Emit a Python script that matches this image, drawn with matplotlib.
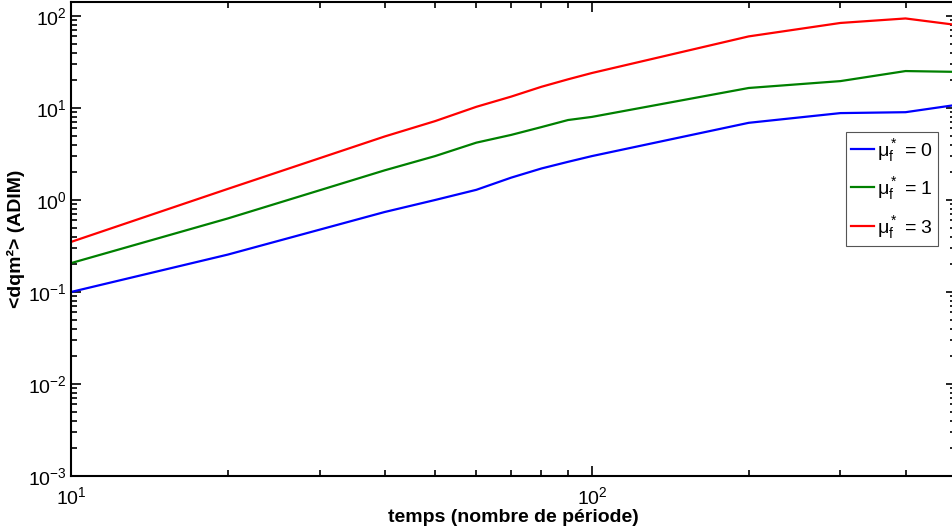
import numpy as np
import matplotlib
matplotlib.use('Agg')
import matplotlib.pyplot as plt

# time (number of periods)
temps = [10, 20, 40, 50, 60, 70, 80, 90, 100, 200, 300, 400, 500]
# <dqm^2> for each mu_f*
dqm_mu0 = [0.1, 0.255, 0.74, 1.0, 1.29, 1.75, 2.2, 2.6, 3.0, 6.9, 8.8, 9.0, 10.8]
dqm_mu1 = [0.206, 0.63, 2.1, 3.0, 4.2, 5.1, 6.2, 7.4, 8.0, 16.5, 19.6, 25.2, 24.7]
dqm_mu3 = [0.35, 1.32, 4.9, 7.2, 10.3, 13.3, 17.0, 20.5, 24.0, 60.0, 84.0, 94.0, 80.0]

labels = [r'$\mu_f^*$ = 0', r'$\mu_f^*$ = 1', r'$\mu_f^*$ = 3']
colors = ['#0000ff', '#008000', '#ff0000']

plt.rcParams['font.family'] = ['Liberation Sans', 'DejaVu Sans']
plt.rcParams['mathtext.fontset'] = 'custom'
plt.rcParams['mathtext.rm'] = 'Liberation Sans'
plt.rcParams['mathtext.it'] = 'Liberation Sans'
plt.rcParams['mathtext.default'] = 'regular'
plt.rcParams['axes.unicode_minus'] = False

fig = plt.figure(figsize=(9.52, 5.31), dpi=100)
ax = fig.add_axes([71 / 952, 1 - 476 / 531, 885 / 952, 474 / 531])

for yy, c, lab in zip([dqm_mu0, dqm_mu1, dqm_mu3], colors, labels):
    ax.plot(temps, yy, '-', color=c, lw=1.6, label=lab)

ax.set_xscale('log')
ax.set_yscale('log')
ax.set_xlim(10, 500)
ax.set_ylim(1e-3, 10 ** 2.152)
ax.set_yticks([1e-3, 1e-2, 1e-1, 1e0, 1e1, 1e2])

ax.tick_params(which='both', direction='in', top=True, right=True,
               labelsize=14, width=1.2)
ax.tick_params(which='major', length=7)
ax.tick_params(which='minor', length=4)
ax.tick_params(axis='x', which='major', pad=7)
ax.tick_params(axis='y', which='major', pad=3)
for s in ax.spines.values():
    s.set_linewidth(1.5)

ax.set_xlabel('temps (nombre de période)', fontsize=14, fontweight='bold', labelpad=1)
ax.set_ylabel('<dqm²> (ADIM)', fontsize=14, fontweight='bold', labelpad=2)

leg = ax.legend(loc='upper right', bbox_to_anchor=(0.98, 0.726), borderaxespad=0,
                fontsize=14, fancybox=False, framealpha=1, edgecolor='#555555',
                handlelength=1.2, handletextpad=0.15, labelspacing=0.6,
                borderpad=0.25)
leg.get_frame().set_linewidth(0.8)

fig.savefig('out.png', dpi=100)
